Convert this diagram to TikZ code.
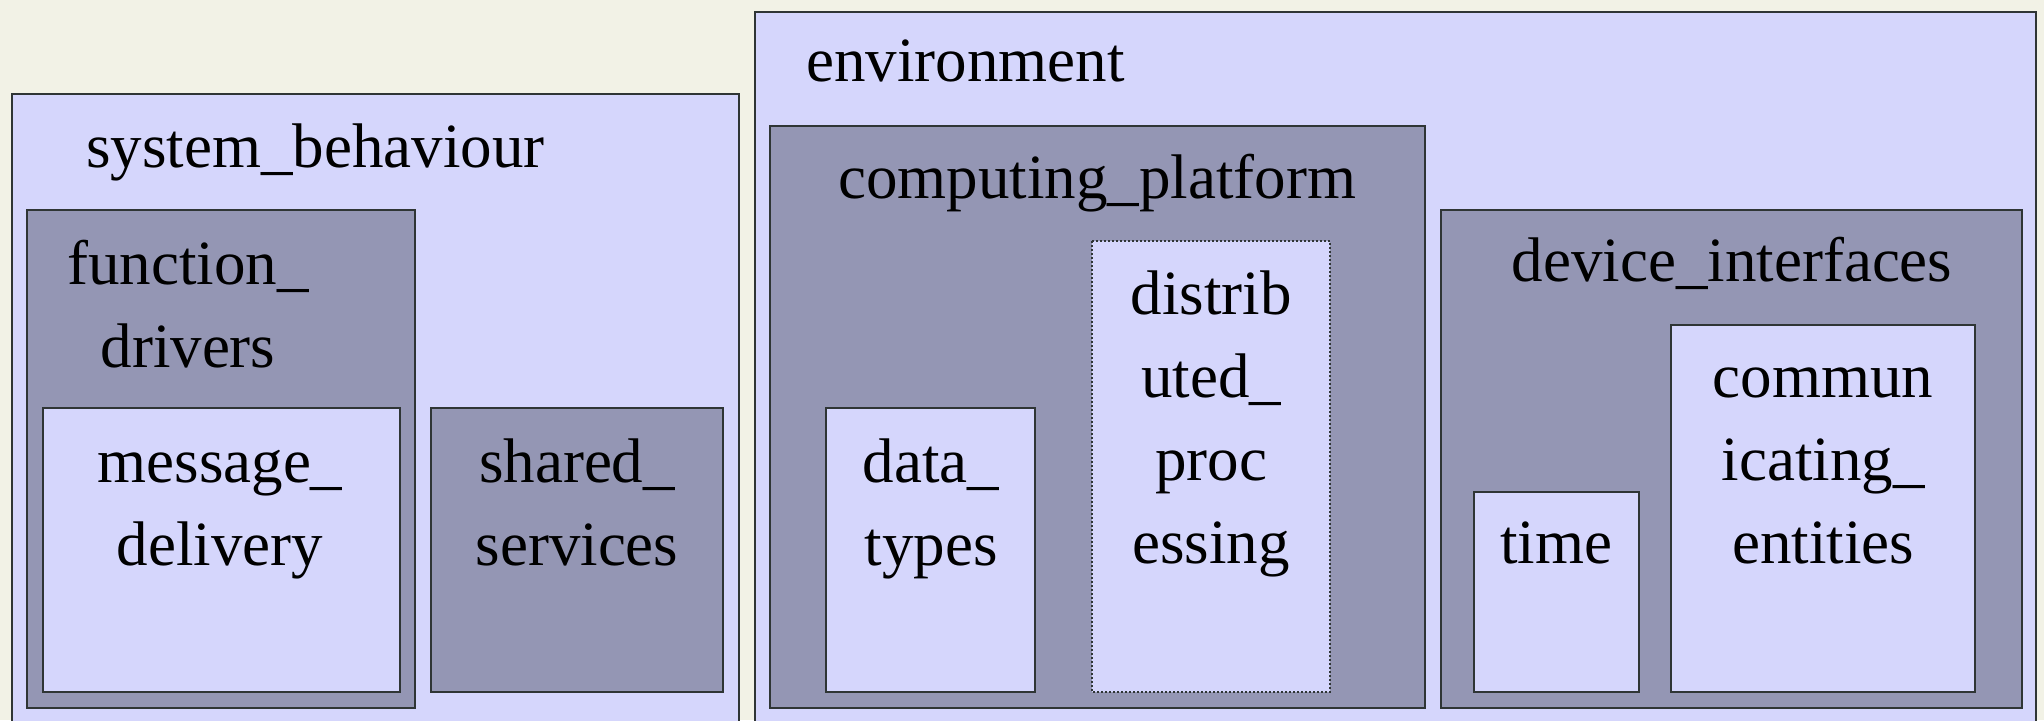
\documentclass[tikz,border=0pt]{standalone}
\usepackage{fontspec}
\setmainfont{Liberation Serif}
\usetikzlibrary{positioning}
\definecolor{bgcol}{HTML}{F2F2E6}
\definecolor{lightfill}{HTML}{D5D6FC}
\definecolor{darkfill}{HTML}{9496B4}
\definecolor{edgecol}{HTML}{2F3535}

\begin{document}
\begin{tikzpicture}[x=0.5pt,y=-0.5pt,
  lightbox/.style={fill=lightfill,draw=edgecol,line width=0.6pt},
  darkbox/.style={fill=darkfill,draw=edgecol,line width=0.6pt},
  dotbox/.style={lightbox,dash pattern=on 1pt off 1pt},
  lbl/.style={font=\fontsize{31.5}{41.5}\selectfont,align=center,inner sep=0pt,anchor=base}]
  \useasboundingbox (0,0) rectangle (2044,720);
  \clip (0,0) rectangle (2044,720);
  \fill[bgcol] (0,0) rectangle (2044,720);
  % system_behaviour
  \draw[lightbox] (12,94) rectangle (739,730);
  \draw[darkbox] (27,210) rectangle (415,708);
  \draw[lightbox] (43,408) rectangle (400,692);
  \draw[darkbox] (431,408) rectangle (723,692);
  \node[lbl,anchor=base west] (sysbeh) at (86,167) {system\_behaviour};
  % base = last line of the label
  \node[lbl] (fundrv) at (188,367) {function\_\\drivers};
  \node[lbl] (msgdel) at (220,565) {message\_\\delivery};
  \node[lbl] (shrsvc) at (577,565) {shared\_\\services};
  % environment
  \draw[lightbox] (755,12) rectangle (2036,730);
  \draw[darkbox] (770,126) rectangle (1425,708);
  \draw[lightbox] (826,408) rectangle (1035,692);
  \draw[dotbox] (1092,241) rectangle (1330,692);
  \draw[darkbox] (1441,210) rectangle (2022,708);
  \draw[lightbox] (1474,492) rectangle (1639,692);
  \draw[lightbox] (1671,325) rectangle (1975,692);
  \node[lbl,anchor=base west] (env) at (806,81) {environment};
  \node[lbl] (cmpplt) at (1097,198) {computing\_platform};
  \node[lbl] (dattyp) at (931,565) {data\_\\types};
  \node[lbl] (dstprc) at (1211,563) {distrib\\uted\_\\proc\\essing};
  \node[lbl] (devint) at (1732,281) {device\_interfaces};
  \node[lbl] (time) at (1556,563) {time};
  \node[lbl] (comm) at (1823,563) {commun\\icating\_\\entities};
\end{tikzpicture}
\end{document}
